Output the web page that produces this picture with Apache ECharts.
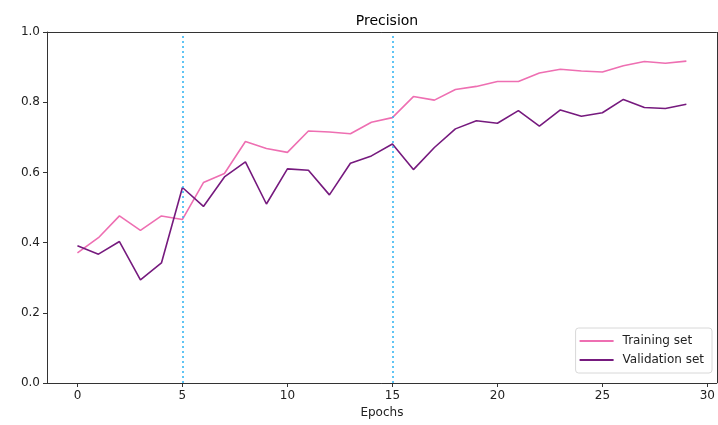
<!DOCTYPE html>
<html>
<head>
<meta charset="utf-8">
<script src="https://cdn.jsdelivr.net/npm/echarts@6/dist/echarts.min.js"></script>
<style>
  html, body { margin: 0; padding: 0; background: #fff; }
  #chart { width: 718px; height: 425px; }
</style>
</head>
<body>
<div id="chart"></div>
<script>
var epochs = []
for (var i = 0; i < 30; i++) epochs.push(i)

var trainingSet = [
  0.371, 0.414, 0.476, 0.435, 0.476, 0.466, 0.571, 0.597, 0.688, 0.668,
  0.657, 0.718, 0.715, 0.710, 0.743, 0.756, 0.816, 0.806, 0.836, 0.845,
  0.859, 0.859, 0.883, 0.894, 0.889, 0.886, 0.904, 0.916, 0.911, 0.917
]
var validationSet = [
  0.391, 0.367, 0.403, 0.294, 0.342, 0.557, 0.503, 0.587, 0.630, 0.510,
  0.610, 0.606, 0.536, 0.626, 0.647, 0.681, 0.608, 0.671, 0.724, 0.747,
  0.740, 0.776, 0.732, 0.778, 0.760, 0.770, 0.808, 0.785, 0.782, 0.794
]
var xTicks = [0, 5, 10, 15, 20, 25, 30]
var yTicks = [0, 0.2, 0.4, 0.6, 0.8, 1.0]
var markEpochs = [5, 15]

var font = 'DejaVu Sans'
var chart = echarts.init(document.getElementById('chart'))

function pairs(arr) {
  return arr.map(function (v, i) { return [epochs[i], v] })
}

var option = {
  animation: false,
  textStyle: { fontFamily: font },
  title: {
    text: 'Precision',
    left: 382,
    top: 9,
    textAlign: 'center',
    textStyle: { fontFamily: font, fontSize: 14, fontWeight: 'normal', color: '#000' }
  },
  grid: { left: 47, right: 1, top: 32, bottom: 42, containLabel: false },
  legend: {
    orient: 'vertical',
    right: 6,
    bottom: 52,
    padding: [7, 8, 7, 4],
    itemGap: 7,
    itemWidth: 34,
    itemHeight: 2,
    icon: 'rect',
    borderColor: '#d8d8d8',
    borderWidth: 1,
    borderRadius: 3,
    backgroundColor: '#fff',
    textStyle: { fontFamily: font, fontSize: 12, color: '#222', padding: [0, 0, 0, 4] },
    data: ['Training set', 'Validation set']
  },
  xAxis: {
    type: 'value',
    min: -1.45,
    max: 30.45,
    name: 'Epochs',
    nameLocation: 'middle',
    nameGap: 24,
    nameTextStyle: { fontFamily: font, fontSize: 12, color: '#222' },
    axisLine: { onZero: false, lineStyle: { color: '#333', width: 1 } },
    axisTick: { show: true, customValues: xTicks, length: 4, lineStyle: { color: '#333' } },
    axisLabel: { customValues: xTicks, fontFamily: font, fontSize: 12, color: '#222', margin: 7 },
    splitLine: { show: false }
  },
  yAxis: {
    type: 'value',
    min: 0,
    max: 1,
    axisLine: { show: true, onZero: false, lineStyle: { color: '#333', width: 1 } },
    axisTick: { show: true, customValues: yTicks, length: 4, lineStyle: { color: '#333' } },
    axisLabel: {
      customValues: yTicks,
      fontFamily: font,
      fontSize: 12,
      color: '#222',
      margin: 7,
      formatter: function (v) { return v.toFixed(1) }
    },
    splitLine: { show: false }
  },
  series: [
    {
      name: 'Training set',
      type: 'line',
      symbol: 'none',
      data: pairs(trainingSet),
      lineStyle: { color: '#ee6fb2', width: 1.6 },
      itemStyle: { color: '#ee6fb2' },
      markLine: {
        silent: true,
        symbol: 'none',
        label: { show: false },
        lineStyle: { color: '#2ab2f2', type: [2, 3], width: 1.5 },
        data: markEpochs.map(function (e) { return { xAxis: e } })
      }
    },
    {
      name: 'Validation set',
      type: 'line',
      symbol: 'none',
      data: pairs(validationSet),
      lineStyle: { color: '#761a7e', width: 1.6 },
      itemStyle: { color: '#761a7e' }
    },
    {
      // right and top frame of the axes box
      type: 'line',
      silent: true,
      symbol: 'none',
      data: [],
      markLine: {
        silent: true,
        symbol: 'none',
        label: { show: false },
        lineStyle: { color: '#333', type: 'solid', width: 1 },
        data: [{ xAxis: 30.45 }, { yAxis: 1 }]
      }
    }
  ]
}

chart.setOption(option)
</script>
</body>
</html>
